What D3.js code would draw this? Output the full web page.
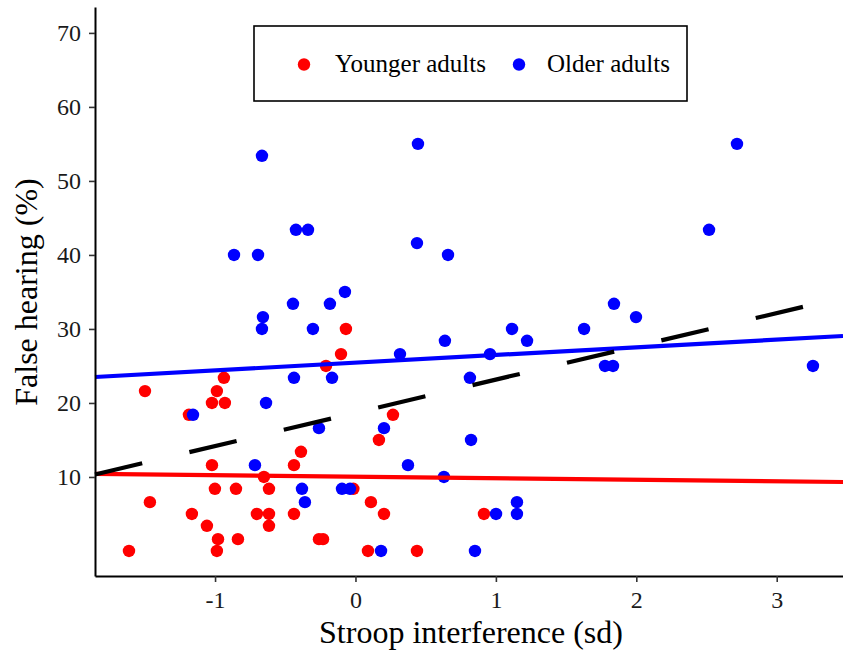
<!DOCTYPE html>
<html>
<head>
<meta charset="utf-8">
<script src="https://cdn.jsdelivr.net/npm/d3@7"></script>
<style>
body { margin: 0; background: #fff; }
svg text { font-family: "Liberation Serif", "DejaVu Serif", serif; fill: #000; }
.axis path { stroke: #000; stroke-width: 2; }
.axis line { stroke: #333; stroke-width: 1.6; }
.axis text { font-size: 24px; fill: #1a1a1a; }
</style>
</head>
<body>
<svg width="843" height="651"></svg>
<script>
var svg = d3.select('svg');

// Younger adults (red)
var youngerX = [-1.613, -1.499, -1.464, -1.186, -1.165, -1.058, -1.022, -1.022, -1.001, -0.987,
    -0.987, -0.979, -0.937, -0.930, -0.851, -0.837, -0.702, -0.652, -0.616, -0.616,
    -0.616, -0.438, -0.438, -0.388, -0.260, -0.231, -0.210, -0.103, -0.068, -0.015,
    0.089, 0.110, 0.167, 0.203, 0.267, 0.438, 0.915];
var youngerY = [0, 21.6, 6.6, 18.4, 5, 3.4, 11.6, 20, 8.4, 21.6,
    0, 1.6, 23.4, 20, 8.4, 1.6, 5, 10, 8.4, 5,
    3.4, 11.6, 5, 13.4, 1.6, 1.6, 25, 26.6, 30, 8.4,
    0, 6.6, 15, 5, 18.4, 0, 5];

// Older adults (blue)
var olderX = [-0.666, -0.865, -0.694, -0.424, -0.338, -0.659, -0.666, -0.445, -0.303, -0.182,
    -0.075, 0.445, 0.438, 0.659, 0.637, 0.317, 0.958, 1.115, 1.222, 1.628,
    1.841, 1.998, 1.777, 1.834, 2.518, 2.717, 3.258, -0.637, -0.438, -0.167,
    -1.157, -0.260, 0.203, 0.815, 0.823, -0.716, 0.374, 0.630, -0.381, -0.360,
    -0.096, -0.039, 1.150, 1.150, 1.001, 0.182, 0.851];
var olderY = [53.4, 40, 40, 43.4, 43.4, 31.6, 30, 33.4, 30, 33.4,
    35, 55, 41.6, 40, 28.4, 26.6, 26.6, 30, 28.4, 30,
    33.4, 31.6, 25, 25, 43.4, 55, 25, 20, 23.4, 23.4,
    18.4, 16.6, 16.6, 23.4, 15, 11.6, 11.6, 10, 8.4, 6.6,
    8.4, 8.4, 6.6, 5, 5, 0, 0];

// fitted lines: younger, older, all
var fitNames = ['younger', 'older', 'all'];
var fitIntercept = [10.03, 25.44, 18.67];
var fitSlope = [-0.205, 1.04, 4.49];

var groups = ['Younger adults', 'Older adults'];
var colors = ['#ff0000', '#0000ff'];

var xTicks = [-1, 0, 1, 2, 3];
var yTicks = [10, 20, 30, 40, 50, 60, 70];

var plot = {l: 95, r: 843, t: 7, b: 576};

var xScale = d3.scaleLinear().domain([-1.855, 3.472]).range([plot.l, plot.r]);
var yScale = d3.scaleLinear().domain([-3.38, 73.5]).range([plot.b, plot.t]);

// points - younger first, older drawn on top
var younger = youngerX.map(function(x, i) { return {x: x, y: youngerY[i]}; });
var older = olderX.map(function(x, i) { return {x: x, y: olderY[i]}; });

svg.append('g').selectAll('circle')
    .data(younger)
    .enter().append('circle')
    .attr('cx', function(d) { return xScale(d.x); })
    .attr('cy', function(d) { return yScale(d.y); })
    .attr('r', 6.2)
    .attr('fill', colors[0]);

svg.append('g').selectAll('circle')
    .data(older)
    .enter().append('circle')
    .attr('cx', function(d) { return xScale(d.x); })
    .attr('cy', function(d) { return yScale(d.y); })
    .attr('r', 6.2)
    .attr('fill', colors[1]);

// regression lines across full range
var line = d3.line()
    .x(function(d) { return xScale(d[0]); })
    .y(function(d) { return yScale(d[1]); });
var xd = xScale.domain();
fitNames.forEach(function(name, i) {
    var pts = xd.map(function(x) { return [x, fitIntercept[i] + fitSlope[i] * x]; });
    svg.append('path')
        .attr('d', line(pts))
        .attr('fill', 'none')
        .attr('stroke', name == 'younger' ? colors[0] : name == 'older' ? colors[1] : '#000')
        .attr('stroke-width', 4.2)
        .attr('stroke-dasharray', name == 'all' ? '48.5,48.5' : null);
});

// axes
var xAxis = svg.append('g')
    .attr('class', 'axis')
    .attr('transform', 'translate(0,' + plot.b + ')')
    .call(d3.axisBottom(xScale).tickValues(xTicks).tickSize(6).tickSizeOuter(0)
        .tickFormat(function(d) { return d < 0 ? '-' + Math.abs(d) : d; }));
xAxis.selectAll('text').attr('y', 0).attr('dy', null)
    .attr('transform', 'translate(0,32)');

var yAxis = svg.append('g')
    .attr('class', 'axis')
    .attr('transform', 'translate(' + plot.l + ',0)')
    .call(d3.axisLeft(yScale).tickValues(yTicks).tickSize(6).tickSizeOuter(0));
yAxis.selectAll('text').attr('x', -14).attr('dy', '0.33em');

svg.append('text')
    .attr('x', (plot.l + plot.r) / 2 + 2)
    .attr('y', 643)
    .attr('text-anchor', 'middle')
    .style('font-size', '32px')
    .text('Stroop interference (sd)');

svg.append('text')
    .attr('transform', 'translate(37,292)rotate(-90)')
    .attr('text-anchor', 'middle')
    .style('font-size', '32px')
    .text('False hearing (%)');

// legend
var legend = svg.append('g');
legend.append('rect')
    .attr('x', 254).attr('y', 26)
    .attr('width', 433).attr('height', 75)
    .attr('fill', '#fff')
    .attr('stroke', '#000')
    .attr('stroke-width', 1.6);

var legendDotX = [304, 519];
var legendTextX = [335, 547];
groups.forEach(function(g, i) {
    legend.append('circle')
        .attr('cx', legendDotX[i]).attr('cy', 64.5)
        .attr('r', 6.2)
        .attr('fill', colors[i]);
    legend.append('text')
        .attr('x', legendTextX[i]).attr('y', 72)
        .style('font-size', '25px')
        .text(g);
});
</script>
</body>
</html>
